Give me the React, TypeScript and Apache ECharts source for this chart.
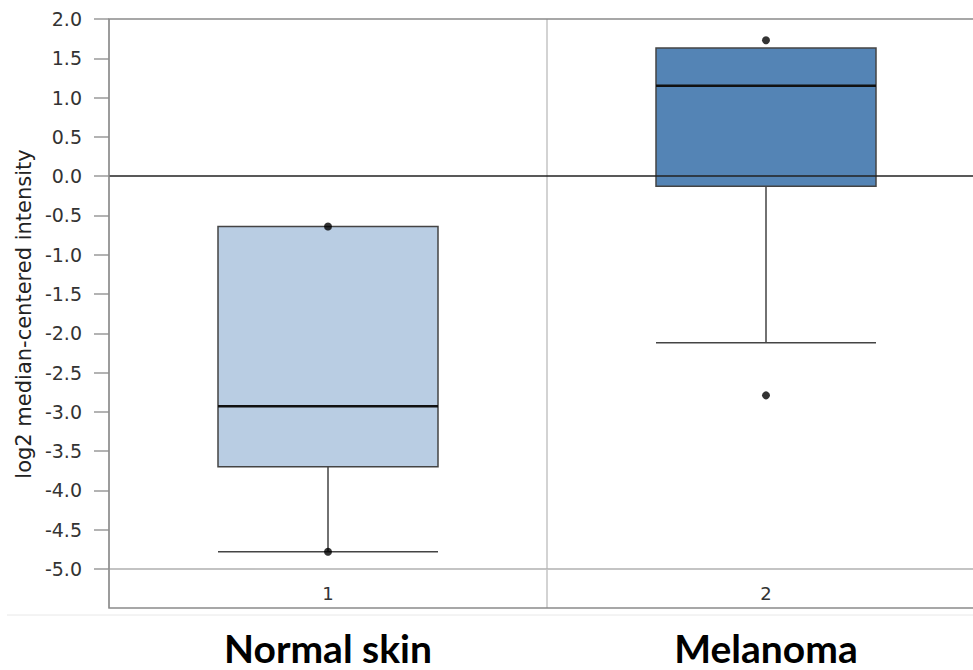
import React, { useEffect, useRef } from "react";
import * as echarts from "echarts";

const tickCategories = ["1", "2"];
const groupNames = ["Normal skin", "Melanoma"];
// [min, Q1, median, Q3, max]
const normalSkinBox = [-4.78, -3.7, -2.93, -0.64, -0.64];
const melanomaBox = [-2.12, -0.13, 1.15, 1.63, 1.63];
const boxColors = ["#b9cde3", "#5484b5"];
// individual points [categoryIndex, value]
const pointValues = [
  [0, -0.64],
  [0, -4.78],
  [1, 1.73],
  [1, -2.79],
];
const yTicks = { min: -5, max: 2, interval: 0.5 };

export default function App() {
  const ref = useRef<HTMLDivElement>(null);
  useEffect(() => {
    if (!ref.current) return;
    const chart = echarts.init(ref.current, undefined, { renderer: "svg" });
    const boxes = [normalSkinBox, melanomaBox];
    const option: any = {
      animation: false,
      backgroundColor: "#ffffff",
      grid: { left: 109, top: 19, right: 0, bottom: 101 },
      xAxis: [
        {
          type: "category",
          data: tickCategories,
          position: "bottom",
          axisLine: { show: true, onZero: false, lineStyle: { color: "#b0b0b0", width: 1.5 } },
          axisTick: { show: true, interval: 0, length: 39, lineStyle: { color: "#c4c4c4", width: 1.5 } },
          splitLine: { show: true, interval: 0, lineStyle: { color: "#c4c4c4", width: 1.5 } },
          axisLabel: { margin: 15, fontFamily: "DejaVu Sans", fontSize: 18, color: "#333" },
        },
        {
          type: "category",
          data: groupNames,
          position: "bottom",
          axisLine: { show: false, onZero: false },
          axisTick: { show: false },
          splitLine: { show: false },
          axisLabel: {
            margin: 61,
            fontFamily: "Lato",
            fontWeight: "bold",
            fontSize: 39,
            lineHeight: 36,
            color: "#000",
          },
        },
      ],
      yAxis: {
        type: "value",
        min: yTicks.min,
        max: yTicks.max,
        interval: yTicks.interval,
        name: "log2 median-centered intensity",
        nameLocation: "middle",
        nameGap: 70,
        nameTextStyle: { fontFamily: "DejaVu Sans", fontSize: 21, color: "#222", padding: [0, 40, 0, 0] },
        axisLine: { show: false },
        axisTick: { show: true, length: 15, lineStyle: { color: "#9a9a9a", width: 1.5 } },
        splitLine: { show: false },
        axisLabel: {
          margin: 27,
          fontFamily: "DejaVu Sans",
          fontSize: 19,
          color: "#333",
          formatter: (v: number) => v.toFixed(1),
        },
      },
      graphic: [
        {
          type: "rect",
          shape: { x: 109, y: 19, width: 876, height: 589 },
          style: { fill: "none", stroke: "#8a8a8a", lineWidth: 1.5 },
          z: 10,
          silent: true,
        },
        {
          type: "line",
          shape: { x1: 7, y1: 615, x2: 985, y2: 615 },
          style: { stroke: "#e8e8e8", lineWidth: 1 },
          silent: true,
        },
      ],
      series: [
        {
          type: "boxplot",
          xAxisIndex: 0,
          boxWidth: [220, 220],
          itemStyle: { borderColor: "#444", borderWidth: 1.5 },
          data: boxes.map((b, i) => ({
            value: b,
            itemStyle: { color: boxColors[i], borderColor: "#444", borderWidth: 1.5 },
          })),
          markLine: {
            silent: true,
            symbol: "none",
            label: { show: false },
            lineStyle: { color: "#222", width: 1.5, type: "solid" },
            data: [{ yAxis: 0 }],
          },
          z: 2,
        },
        {
          type: "custom",
          xAxisIndex: 0,
          data: boxes.map((b, i) => [i, b[2]]),
          renderItem: (params: any, api: any) => {
            const c = api.coord([api.value(0), api.value(1)]);
            const half = 110;
            return {
              type: "line",
              shape: { x1: c[0] - half, y1: c[1], x2: c[0] + half, y2: c[1] },
              style: { stroke: "#111", lineWidth: 2.5 },
            };
          },
          z: 3,
        },
        {
          type: "scatter",
          xAxisIndex: 0,
          data: pointValues,
          symbol: "circle",
          symbolSize: 8,
          itemStyle: { color: "#000" },
          z: 4,
        },
      ],
    };
    chart.setOption(option);
    return () => chart.dispose();
  }, []);
  return (
    <div style={{ position: "absolute", left: 0, top: 0, width: 973, height: 670, overflow: "hidden" }}>
      <div ref={ref} style={{ width: 985, height: 670 }} />
    </div>
  );
}
